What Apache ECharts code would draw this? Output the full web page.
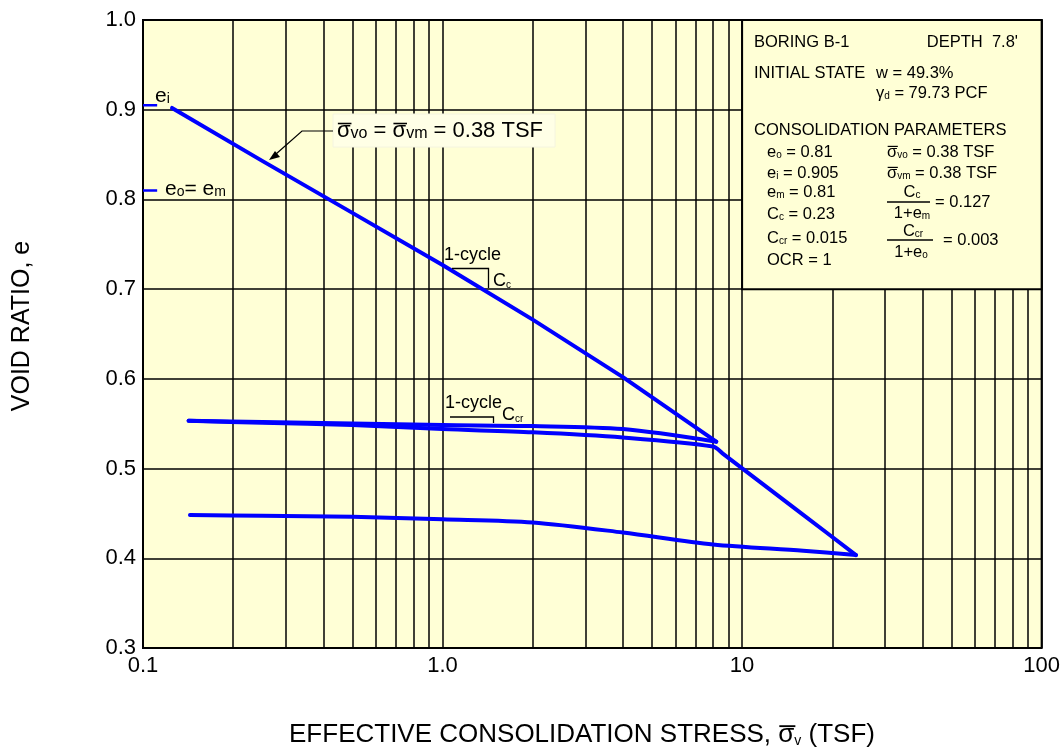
<!DOCTYPE html>
<html><head><meta charset="utf-8">
<script src="https://cdn.jsdelivr.net/npm/echarts@6/dist/echarts.min.js"></script>
<style>html,body{margin:0;padding:0;background:#fff}#c{width:1063px;height:750px}</style>
</head><body><div id="c"></div>
<script>
// ---- data ----
const loadStress = [0.125, 0.25, 0.5, 1, 2, 4, 8.2];
const loadVoid = [0.902, 0.843, 0.785, 0.727, 0.666, 0.602, 0.530];
const unload1Stress = [8.2, 4, 2, 1, 0.5, 0.25, 0.142];
const unload1Void = [0.530, 0.544, 0.5474, 0.5485, 0.5502, 0.5518, 0.5533];
const reloadStress = [0.142, 0.25, 0.5, 1, 2, 4, 8, 8.6, 16, 24];
const reloadVoid = [0.5533, 0.551, 0.5485, 0.544, 0.5404, 0.5346, 0.5245, 0.517, 0.4484, 0.4036];
const unload2Stress = [24, 16, 8, 4, 2, 1, 0.5, 0.25, 0.1435];
const unload2Void = [0.4036, 0.4085, 0.4153, 0.4287, 0.440, 0.4435, 0.4463, 0.4474, 0.4482];
const xTickValues = [0.1, 1, 10, 100];
const xTickLabels = ['0.1', '1.0', '10', '100'];
const minorStress = [0.2,0.3,0.4,0.5,0.6,0.7,0.8,0.9, 2,3,4,5,6,7,8,9, 20,30,40,50,60,70,80,90];
const eInitial = 0.905;
const eZero = 0.81;
const boxStress = [10, 100];
const boxVoid = [0.7, 1.0];

const FONT = "'Liberation Sans', Arial, sans-serif";
const BG = '#FFFFD6';
const BLUE = '#0000FF';

const mctx = document.createElement('canvas').getContext('2d');
function tw(text, size) { mctx.font = size + 'px ' + FONT; return mctx.measureText(text).width; }

function zip(a, b) { return a.map((v, i) => [v, b[i]]); }
function curve(name, xs, ys, smooth) {
  return { name, type: 'line', data: zip(xs, ys), showSymbol: false, symbol: 'none', z: 6,
    smooth: smooth, lineStyle: { color: BLUE, width: 4, join: 'round', cap: 'round' }, silent: true };
}
function T(x, y, text, size, extra) {
  return { type: 'text', x, y, z: 100, silent: true,
    style: Object.assign({ text, font: size + 'px ' + FONT, fill: '#000',
      align: 'left', verticalAlign: 'middle', textAlign: 'left', textVerticalAlign: 'middle' }, extra || {}) };
}
function L(points, w) {
  return { type: 'polyline', z: 100, silent: true, shape: { points }, style: { stroke: '#000', lineWidth: w || 1, fill: null } };
}
// parts: [text, kind] kind 0 normal, 1 subscript, 2 barred sigma (normal size)
function R(x, y, parts, size, sub, align) {
  const text = parts.map(p => '{' + (p[1] === 1 ? 's' : 'n') + '|' + p[0] + '}').join('');
  const widths = parts.map(p => tw(p[0], p[1] === 1 ? sub : size));
  const total = widths.reduce((a, b) => a + b, 0);
  let cx = align === 'center' ? x - total / 2 : x;
  const els = [T(x, y, text, size, {
    align: align || 'left', textAlign: align || 'left',
    rich: { n: { fontSize: size, fontFamily: FONT, fill: '#000', verticalAlign: 'bottom' },
            s: { fontSize: sub, fontFamily: FONT, fill: '#000', verticalAlign: 'bottom' } } })];
  parts.forEach((p, i) => {
    if (p[1] === 2) {
      const by = y - 0.34 * size;
      els.push(L([[cx + 0.04 * size, by], [cx + widths[i] + 0.04 * size, by]], Math.max(1.1, size / 14)));
    }
    cx += widths[i];
  });
  return els;
}

const BS = 16.5, BSUB = 10;
const chart = echarts.init(document.getElementById('c'), null, { renderer: 'canvas' });
const graphics = [].concat(
  [{ type: 'text', x: 22, y: 326, rotation: Math.PI / 2, z: 100, silent: true,
     style: { text: 'VOID RATIO, e', font: '25px ' + FONT, fill: '#000', align: 'center', verticalAlign: 'middle', textAlign: 'center', textVerticalAlign: 'middle' } }],
  R(582, 735, [['EFFECTIVE CONSOLIDATION STRESS, ', 0], ['σ', 2], ['v', 1], [' (TSF)', 0]], 26, 14, 'center'),
  R(155, 96, [['e', 0], ['i', 1]], 21, 14),
  R(165, 189, [['e', 0], ['o', 1], ['= e', 0], ['m', 1]], 21, 14),
  [{ type: 'rect', z: 99, silent: true, shape: { x: 333, y: 114, width: 222, height: 33 }, style: { fill: '#FFFFE6', stroke: '#F4F4E0', lineWidth: 1 } }],
  R(337, 131, [['σ', 2], ['vo', 1], [' = ', 0], ['σ', 2], ['vm', 1], [' = 0.38 TSF', 0]], 22, 16),
  [L([[333, 131], [302, 131], [276, 154]], 1.2),
   { type: 'polygon', z: 100, silent: true, shape: { points: [[269, 160], [280, 157], [275, 151]] }, style: { fill: '#000' } },
   T(444, 255, '1-cycle', 18),
   L([[452, 268.5], [488.5, 268.5], [488.5, 288]], 1.3)],
  R(493, 281, [['C', 0], ['c', 1]], 18, 10),
  [T(445, 403, '1-cycle', 18),
   L([[450, 417], [493.5, 417], [493.5, 423]], 1.3)],
  R(502, 415, [['C', 0], ['cr', 1]], 18, 10),
  [T(754, 42, 'BORING B-1', BS),
   T(1018, 42, "DEPTH  7.8'", BS, { align: 'right', textAlign: 'right' }),
   T(754, 73, 'INITIAL STATE', BS),
   T(876, 73, 'w = 49.3%', BS)],
  R(876, 93, [['γ', 0], ['d', 1], [' = 79.73 PCF', 0]], BS, BSUB),
  [T(754, 130, 'CONSOLIDATION PARAMETERS', BS)],
  R(767, 152, [['e', 0], ['o', 1], [' = 0.81', 0]], BS, BSUB),
  R(887, 152, [['σ', 2], ['vo', 1], [' = 0.38 TSF', 0]], BS, BSUB),
  R(767, 173, [['e', 0], ['i', 1], [' = 0.905', 0]], BS, BSUB),
  R(887, 173, [['σ', 2], ['vm', 1], [' = 0.38 TSF', 0]], BS, BSUB),
  R(767, 192, [['e', 0], ['m', 1], [' = 0.81', 0]], BS, BSUB),
  R(767, 214, [['C', 0], ['c', 1], [' = 0.23', 0]], BS, BSUB),
  R(767, 238, [['C', 0], ['cr', 1], [' = 0.015', 0]], BS, BSUB),
  [T(767, 260, 'OCR = 1', BS)],
  R(912, 192, [['C', 0], ['c', 1]], BS, BSUB, 'center'),
  [L([[887, 202], [930, 202]], 1.3)],
  R(912, 213, [['1+e', 0], ['m', 1]], BS, BSUB, 'center'),
  [T(935, 202, '= 0.127', BS)],
  R(913, 231, [['C', 0], ['cr', 1]], BS, BSUB, 'center'),
  [L([[887, 240], [933, 240]], 1.3)],
  R(911, 252, [['1+e', 0], ['o', 1]], BS, BSUB, 'center'),
  [T(943, 240, '= 0.003', BS)]
);

chart.setOption({
  animation: false,
  backgroundColor: '#fff',
  grid: { left: 143, right: 20, top: 20, bottom: 102, show: true, backgroundColor: BG, borderColor: '#000', borderWidth: 2 },
  xAxis: {
    type: 'log', logBase: 10, min: 0.1, max: 100,
    axisLine: { show: false }, axisTick: { show: false },
    splitLine: { show: true, lineStyle: { color: '#000', width: 1.5 } },
    axisLabel: { fontSize: 22, fontFamily: FONT, color: '#000', margin: 7,
      formatter: v => { const i = xTickValues.findIndex(t => Math.abs(Math.log10(t) - Math.log10(v)) < 1e-6); return i >= 0 ? xTickLabels[i] : ''; } }
  },
  yAxis: {
    type: 'value', min: 0.3, max: 1.0, interval: 0.1,
    axisLine: { show: false }, axisTick: { show: false },
    splitLine: { show: true, lineStyle: { color: '#000', width: 1.5 } },
    axisLabel: { fontSize: 22, fontFamily: FONT, color: '#000', margin: 7, formatter: v => v.toFixed(1) }
  },
  series: [
    { type: 'line', data: [], silent: true,
      markLine: { silent: true, symbol: 'none', z: 1, label: { show: false },
        lineStyle: { color: '#000', width: 1.5, type: 'solid' },
        data: minorStress.map(v => ({ xAxis: v })) } },
    { type: 'line', data: [], silent: true,
      markArea: { silent: true, z: 3, label: { show: false },
        itemStyle: { color: BG, borderColor: '#000', borderWidth: 2, opacity: 1 },
        data: [[{ xAxis: boxStress[0], yAxis: boxVoid[1] }, { xAxis: boxStress[1], yAxis: boxVoid[0] }]] } },
    curve('load', loadStress, loadVoid, false),
    curve('unload1', unload1Stress, unload1Void, 0.3),
    curve('reload', reloadStress, reloadVoid, 0.3),
    curve('unload2', unload2Stress, unload2Void, 0.3),
    { type: 'line', data: [[0.1, eInitial], [0.1115, eInitial]], showSymbol: false, symbol: 'none', z: 6, silent: true, lineStyle: { color: BLUE, width: 2.5 } },
    { type: 'line', data: [[0.1, eZero], [0.1115, eZero]], showSymbol: false, symbol: 'none', z: 6, silent: true, lineStyle: { color: BLUE, width: 2.5 } }
  ],
  graphic: graphics
});
</script></body></html>
